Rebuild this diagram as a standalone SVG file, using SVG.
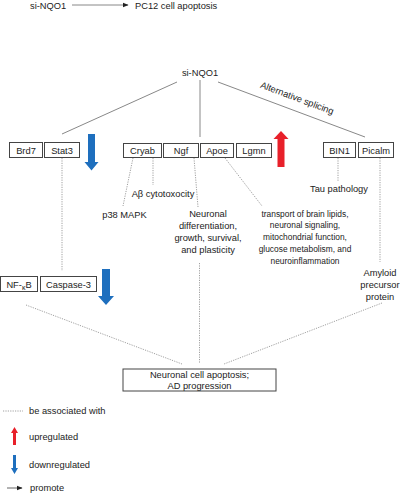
<svg xmlns="http://www.w3.org/2000/svg" width="400" height="493" viewBox="0 0 400 493">
<defs>
<style>
text{font-family:"Liberation Sans",Arial,sans-serif;font-size:9.3px;fill:#222}
.c{text-anchor:middle}
.sm{font-size:8.4px}
.box{fill:#fff;stroke:#444;stroke-width:1}
.solid{stroke:#888;stroke-width:1;fill:none}
.dot{stroke:#888;stroke-width:0.8;stroke-dasharray:1.2 1.2;fill:none}
.up{fill:#e8202a}
.down{fill:#1e6fbe}
</style>
<marker id="ah" viewBox="0 0 10 10" refX="9" refY="5" markerWidth="6" markerHeight="6" orient="auto" markerUnits="userSpaceOnUse">
<path d="M0,1 L10,5 L0,9 z" fill="#222"/>
</marker>
</defs>
<rect width="400" height="493" fill="#fff"/>

<g id="connectors">
<line class="solid" x1="72" y1="5" x2="128" y2="5" stroke="#666" marker-end="url(#ah)"/>
<line class="solid" x1="177" y1="82" x2="62" y2="134"/>
<line class="solid" x1="200" y1="80" x2="200" y2="137"/>
<line class="solid" x1="218" y1="82" x2="365" y2="137"/>
<line class="dot" x1="62" y1="158" x2="62" y2="271"/>
<line class="dot" x1="133" y1="158" x2="123" y2="206"/>
<line class="dot" x1="153" y1="158" x2="153" y2="185"/>
<line class="dot" x1="194" y1="158" x2="198" y2="207"/>
<line class="dot" x1="225" y1="158" x2="262" y2="206"/>
<line class="dot" x1="338" y1="158" x2="338" y2="182"/>
<line class="dot" x1="380" y1="158" x2="380" y2="262"/>
<line class="dot" x1="26" y1="305" x2="182" y2="364"/>
<line class="dot" x1="199.5" y1="263" x2="199.5" y2="363"/>
<line class="dot" x1="382" y1="303" x2="224" y2="364"/>
</g>

<g id="top-relation">
<text x="30" y="9">si-NQO1</text>
<text x="135" y="9">PC12 cell apoptosis</text>
</g>

<g id="si-NQO1"><text class="c" x="200" y="76">si-NQO1</text></g>
<g id="alt-splicing"><text class="c" transform="translate(296,101) rotate(20.5)">Alternative splicing</text></g>

<g id="Brd7"><rect class="box" x="9.5" y="142.5" width="33" height="15"/><text class="c" x="26" y="153.5">Brd7</text></g>
<g id="Stat3"><rect class="box" x="44.5" y="142.5" width="35" height="15"/><text class="c" x="62" y="153.5">Stat3</text></g>
<g id="Cryab"><rect class="box" x="123.5" y="143.5" width="38" height="14"/><text class="c" x="142.5" y="154">Cryab</text></g>
<g id="Ngf"><rect class="box" x="163.5" y="143.5" width="35" height="14"/><text class="c" x="181" y="154">Ngf</text></g>
<g id="Apoe"><rect class="box" x="200.5" y="143.5" width="33" height="14"/><text class="c" x="217" y="154">Apoe</text></g>
<g id="Lgmn"><rect class="box" x="236.5" y="143.5" width="35" height="14"/><text class="c" x="254" y="154">Lgmn</text></g>
<g id="BIN1"><rect class="box" x="323.5" y="142.5" width="32" height="15"/><text class="c" x="339.5" y="153.5">BIN1</text></g>
<g id="Picalm"><rect class="box" x="358.5" y="142.5" width="35" height="15"/><text class="c" x="376" y="153.5">Picalm</text></g>

<g id="arrow-down-1"><path class="down" d="M88,134 H95 V162 H98.5 L91.5,170.5 L84.5,162 H88 Z"/></g>
<g id="arrow-up-1"><path class="up" d="M281,131 L288.5,139 H284.5 V167 H277.5 V139 H273.5 Z"/></g>

<g id="Ab"><text class="c" x="163" y="197">Aβ cytotoxocity</text></g>
<g id="p38"><text class="c" x="124.5" y="218">p38 MAPK</text></g>
<g id="ngf-func"><text class="c" x="208" y="217">Neuronal</text><text class="c" x="208" y="229">differentiation,</text><text class="c" x="208" y="241">growth, survival,</text><text class="c" x="208" y="253">and plasticity</text></g>
<g id="apoe-func"><text class="c sm" x="305" y="216.5">transport of brain lipids,</text><text class="c sm" x="305" y="228">neuronal signaling,</text><text class="c sm" x="305" y="240">mitochondrial function,</text><text class="c sm" x="305" y="252">glucose metabolism, and</text><text class="c sm" x="305" y="263.5">neuroinflammation</text></g>
<g id="tau"><text class="c" x="339" y="192">Tau pathology</text></g>
<g id="app"><text class="c" x="380" y="276">Amyloid</text><text class="c" x="380" y="288">precursor</text><text class="c" x="380" y="300">protein</text></g>

<g id="NFkB"><rect class="box" x="0.5" y="276.5" width="37" height="15"/><text class="c" x="19" y="287.5">NF-<tspan font-size="7" dy="2">κ</tspan><tspan dy="-2">B</tspan></text></g>
<g id="Caspase3"><rect class="box" x="40.5" y="276.5" width="56" height="15"/><text class="c" x="68.5" y="287.5">Caspase-3</text></g>
<g id="arrow-down-2"><path class="down" d="M102,269 H110 V296 H114 L106,305 L98,296 H102 Z"/></g>

<g id="outcome"><rect class="box" x="123" y="369" width="153" height="22"/><text class="c" x="199.5" y="378">Neuronal cell apoptosis;</text><text class="c" x="199.5" y="389">AD progression</text></g>

<g id="legend">
<line class="dot" x1="3" y1="411" x2="23" y2="411"/>
<text x="29" y="414">be associated with</text>
<path class="up" d="M14.5,427 L18,433 H16 V445 H13 V433 H11 Z"/>
<text x="29" y="440">upregulated</text>
<path class="down" d="M13,455 H16 V468 H18 L14.5,474 L11,468 H13 Z"/>
<text x="29" y="468">downregulated</text>
<line x1="7" y1="488" x2="22" y2="488" stroke="#666" stroke-width="1" marker-end="url(#ah)"/>
<text x="30" y="491">promote</text>
</g>
</svg>
